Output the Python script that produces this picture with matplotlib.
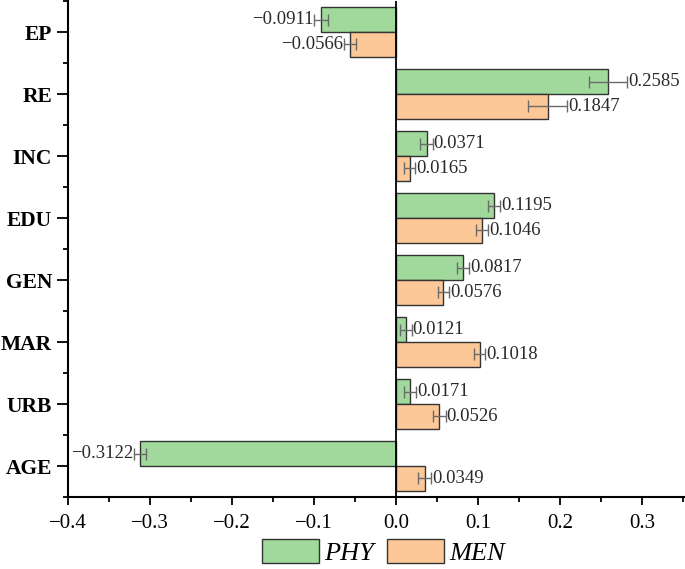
import numpy as np
import matplotlib
matplotlib.use("Agg")
import matplotlib.pyplot as plt
from matplotlib.ticker import MultipleLocator
from matplotlib.patches import Patch

# data (bottom to top)
factors = ["AGE", "URB", "MAR", "GEN", "EDU", "INC", "RE", "EP"]
phy = [-0.3122, 0.0171, 0.0121, 0.0817, 0.1195, 0.0371, 0.2585, -0.0911]
men = [0.0349, 0.0526, 0.1018, 0.0576, 0.1046, 0.0165, 0.1847, -0.0566]
phy_err = [0.007, 0.007, 0.007, 0.007, 0.0075, 0.0075, 0.023, 0.0085]
men_err = [0.008, 0.0075, 0.007, 0.007, 0.0075, 0.007, 0.024, 0.007]
xticks = [-0.4, -0.3, -0.2, -0.1, 0.0, 0.1, 0.2, 0.3]

green = "#A0D99B"
orange = "#FDC897"

plt.rcParams["font.family"] = ["Liberation Serif", "DejaVu Serif"]

fig = plt.figure(figsize=(6.85, 5.69), dpi=100)
ax = fig.add_axes([0.0993, 0.1265, 0.9007, 0.8717])

y = np.arange(len(factors))
h = 0.4
ax.barh(y + h / 2, phy, height=h, color=green, edgecolor="#333333", linewidth=1.0)
ax.barh(y - h / 2, men, height=h, color=orange, edgecolor="#333333", linewidth=1.0)

ax.errorbar(phy, y + h / 2, xerr=phy_err, fmt="none", ecolor="#6a6a6a",
            elinewidth=1.0, capsize=4, capthick=1.0)
ax.errorbar(men, y - h / 2, xerr=men_err, fmt="none", ecolor="#6a6a6a",
            elinewidth=1.0, capsize=4, capthick=1.0)

# value labels next to the error bars
for vals, errs, off in [(phy, phy_err, h / 2), (men, men_err, -h / 2)]:
    for i, (v, e) in enumerate(zip(vals, errs)):
        txt = f"{v:.4f}".replace("-", "\u2212")
        if v >= 0:
            ax.text(v + e + 0.001, i + off, txt, ha="left", va="center",
                    fontsize=13.5, color="#2a2a2a")
        else:
            ax.text(v - e - 0.001, i + off, txt, ha="right", va="center",
                    fontsize=13.5, color="#2a2a2a")

ax.axvline(0, color="black", linewidth=1.3)

ax.set_xlim(-0.4, 0.352)
ax.set_ylim(-0.5, 7.5)
ax.set_yticks(y)
ax.set_yticklabels(factors, fontsize=15.5, fontweight="bold")
ax.yaxis.set_minor_locator(MultipleLocator(1, offset=0.5))
ax.xaxis.set_minor_locator(MultipleLocator(0.05))
ax.set_xticks(xticks)
ax.set_xticklabels([f"{t:.1f}".replace("-", "\u2212") for t in xticks], fontsize=15)

for s in ["top", "right"]:
    ax.spines[s].set_visible(False)
for s in ["left", "bottom"]:
    ax.spines[s].set_linewidth(1.5)

ax.tick_params(axis="both", which="major", direction="out", length=6, width=1.3)
ax.tick_params(axis="both", which="minor", direction="out", length=3.5, width=1.3)
ax.tick_params(axis="y", which="major", length=8)
ax.tick_params(axis="x", pad=6)

handles = [Patch(facecolor=green, edgecolor="#333333", label="PHY"),
           Patch(facecolor=orange, edgecolor="#333333", label="MEN")]
fig.legend(handles=handles, loc="center", bbox_to_anchor=(0.56, 0.03), ncol=2,
           frameon=False, prop={"style": "italic", "size": 19},
           handlelength=2.15, handleheight=1.05, handletextpad=0.2,
           columnspacing=0.5)

plt.savefig("out.png", dpi=100)
